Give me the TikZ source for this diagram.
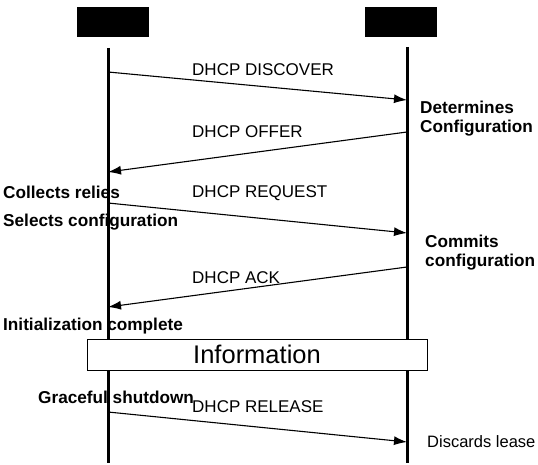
\documentclass[tikz,border=0pt]{standalone}
\usepackage{fontspec}
\setmainfont{Liberation Sans}
\usetikzlibrary{arrows.meta}

\begin{document}
\begin{tikzpicture}[x=1pt,y=-1pt,
    msg/.style={-{Latex[length=13pt, width=9pt]}, line width=1.1pt},
    life/.style={line width=3pt},
    lbl/.style={anchor=west, inner sep=0pt, font=\fontsize{17}{19}\selectfont},
    note/.style={anchor=west, inner sep=0pt, font=\fontsize{17.2}{19}\selectfont\bfseries},
    head/.style={fill=black, minimum width=72pt, minimum height=30pt, inner sep=0pt}]
    \useasboundingbox (0,0) rectangle (538,465);
    % heads
    \node[head] (client) at (113,22) {};
    \node[head] (server) at (401,22) {};
    % lifelines
    \coordinate (cTop) at (108,48);
    \coordinate (cBot) at (108,463);
    \coordinate (sTop) at (407,47);
    \coordinate (sBot) at (407,463);
    % message ends
    \coordinate (c1) at (108,72);   \coordinate (s1) at (407,100);
    \coordinate (s2) at (407,132);  \coordinate (c2) at (108,172);
    \coordinate (c3) at (108,203);  \coordinate (s3) at (407,233);
    \coordinate (s4) at (407,267);  \coordinate (c4) at (108,307);
    \coordinate (c5) at (108,412);  \coordinate (s5) at (407,442);
    \draw[msg] (c1) -- (s1);
    \draw[msg] (s2) -- (c2);
    \draw[msg] (c3) -- (s3);
    \draw[msg] (s4) -- (c4);
    \draw[msg] (c5) -- (s5);
    \draw[life] (cTop) -- (cBot);
    \draw[life] (sTop) -- (sBot);
    \node[draw, fill=white, line width=0.8pt, minimum width=340pt, minimum height=31pt,
        font=\fontsize{25.5}{30}\selectfont] (info) at (257,354.5) {Information};
    % message labels
    \node[lbl] (discover) at (192,70) {DHCP DISCOVER};
    \node[lbl] (offer) at (192,132) {DHCP OFFER};
    \node[lbl] (request) at (192,193) {DHCP REQUEST};
    \node[lbl] (ack) at (192,278) {DHCP ACK};
    \node[lbl] (release) at (192,407) {DHCP RELEASE};
    % client side
    \node[note] (collects) at (3,192) {Collects relies};
    \node[note] (selects) at (3,222) {Selects configuration};
    \node[note] (init) at (3,326) {Initialization complete};
    \node[note] (graceful) at (38,397) {Graceful shutdown};
    % server side
    \node[note, align=left] (determines) at (420,119) {Determines\\Configuration};
    \node[note, align=left] (commits) at (425,253) {Commits\\configuration};
    \node[lbl, font=\fontsize{16.5}{19}\selectfont] (discards) at (427,442) {Discards lease};
\end{tikzpicture}
\end{document}
